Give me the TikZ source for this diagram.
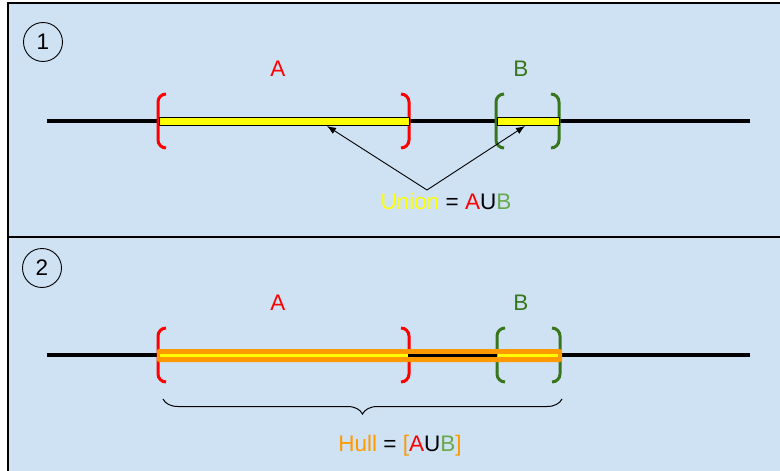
\documentclass[tikz,border=0pt]{standalone}
\usepackage{fontspec}
\setmainfont{Liberation Sans}
\usetikzlibrary{arrows.meta,decorations.pathreplacing}
\definecolor{panelblue}{HTML}{CFE2F3}
\definecolor{setred}{HTML}{FF0000}
\definecolor{setgreen}{HTML}{38761D}
\definecolor{lightgreen}{HTML}{6AA84F}
\definecolor{hullorange}{HTML}{FF9900}
\definecolor{unionyellow}{HTML}{FFFF00}
\tikzset{
  lbrak/.pic={\draw[line width=3pt, rounded corners=8pt] (8,-27) -- (0,-27) -- (0,27) -- (8,27);},
  rbrak/.pic={\draw[line width=3pt, rounded corners=8pt] (-8,-27) -- (0,-27) -- (0,27) -- (-8,27);},
  numcircle/.style={draw, circle, minimum size=39pt, inner sep=0pt, line width=0.9pt},
  realline/.style={line width=3.5pt},
}

\begin{document}
\begin{tikzpicture}[x=1pt, y=-1pt, every node/.style={font=\fontsize{22.5}{26}\selectfont}]
  \useasboundingbox (0,0) rectangle (780,471);
  \fill[panelblue] (8,3) rectangle (780,471);
  \draw[line width=1.2pt] (780,3) -- (8,3) -- (8,471);
  \draw[line width=1.2pt] (8,237) -- (780,237);

  % 1: union
  \node[numcircle] (one) at (43,42) {1};
  \node[text=setred] (A1) at (278,69) {A};
  \node[text=setgreen] (B1) at (521,69) {B};
  \draw[realline] (47,121) -- (750,121);
  \pic[setred] at (158,121) {lbrak};
  \pic[setred] at (409,121) {rbrak};
  \pic[setgreen] at (496,121) {lbrak};
  \pic[setgreen] at (559,121) {rbrak};
  \draw[fill=unionyellow, line width=0.8pt] (159,117) rectangle (409,125);
  \draw[fill=unionyellow, line width=0.8pt] (497,117) rectangle (559,125);
  \coordinate (tipA) at (327,126);
  \coordinate (tipB) at (525,126);
  \node (union) at (446,201) {\textcolor{unionyellow}{Union} = \textcolor{setred}{A}U\textcolor{lightgreen}{B}};
  \coordinate (fork) at (427,190);
  \draw[-{Latex[length=9pt,width=7pt]}, line width=0.9pt] (fork) -- (tipA);
  \draw[-{Latex[length=9pt,width=7pt]}, line width=0.9pt] (fork) -- (tipB);

  % 2: hull
  \node[numcircle] (two) at (42,268) {2};
  \node[text=setred] (A2) at (278,303) {A};
  \node[text=setgreen] (B2) at (521,303) {B};
  \draw[realline] (47,355) -- (750,355);
  \pic[setred] at (158,355) {lbrak};
  \pic[setred] at (409,355) {rbrak};
  \pic[setgreen] at (497,355) {lbrak};
  \pic[setgreen] at (560,355) {rbrak};
  \fill[hullorange, rounded corners=2pt] (157,349) rectangle (562,362);
  \draw[unionyellow, line width=3pt] (160,355) -- (408,355);
  \draw[unionyellow, line width=3pt] (498,355) -- (558,355);
  \draw[line width=3pt] (408,355) -- (497,355);
  \coordinate (braceL) at (163,399);
  \coordinate (braceR) at (562,399);
  \draw[line width=1pt, decorate, decoration={brace, mirror, amplitude=15pt}] (braceL) -- (braceR);
  \node (hull) at (400,446) {\textcolor{hullorange}{Hull} = \textcolor{hullorange}{[}\textcolor{setred}{A}U\textcolor{lightgreen}{B}\textcolor{hullorange}{]}};
\end{tikzpicture}
\end{document}
